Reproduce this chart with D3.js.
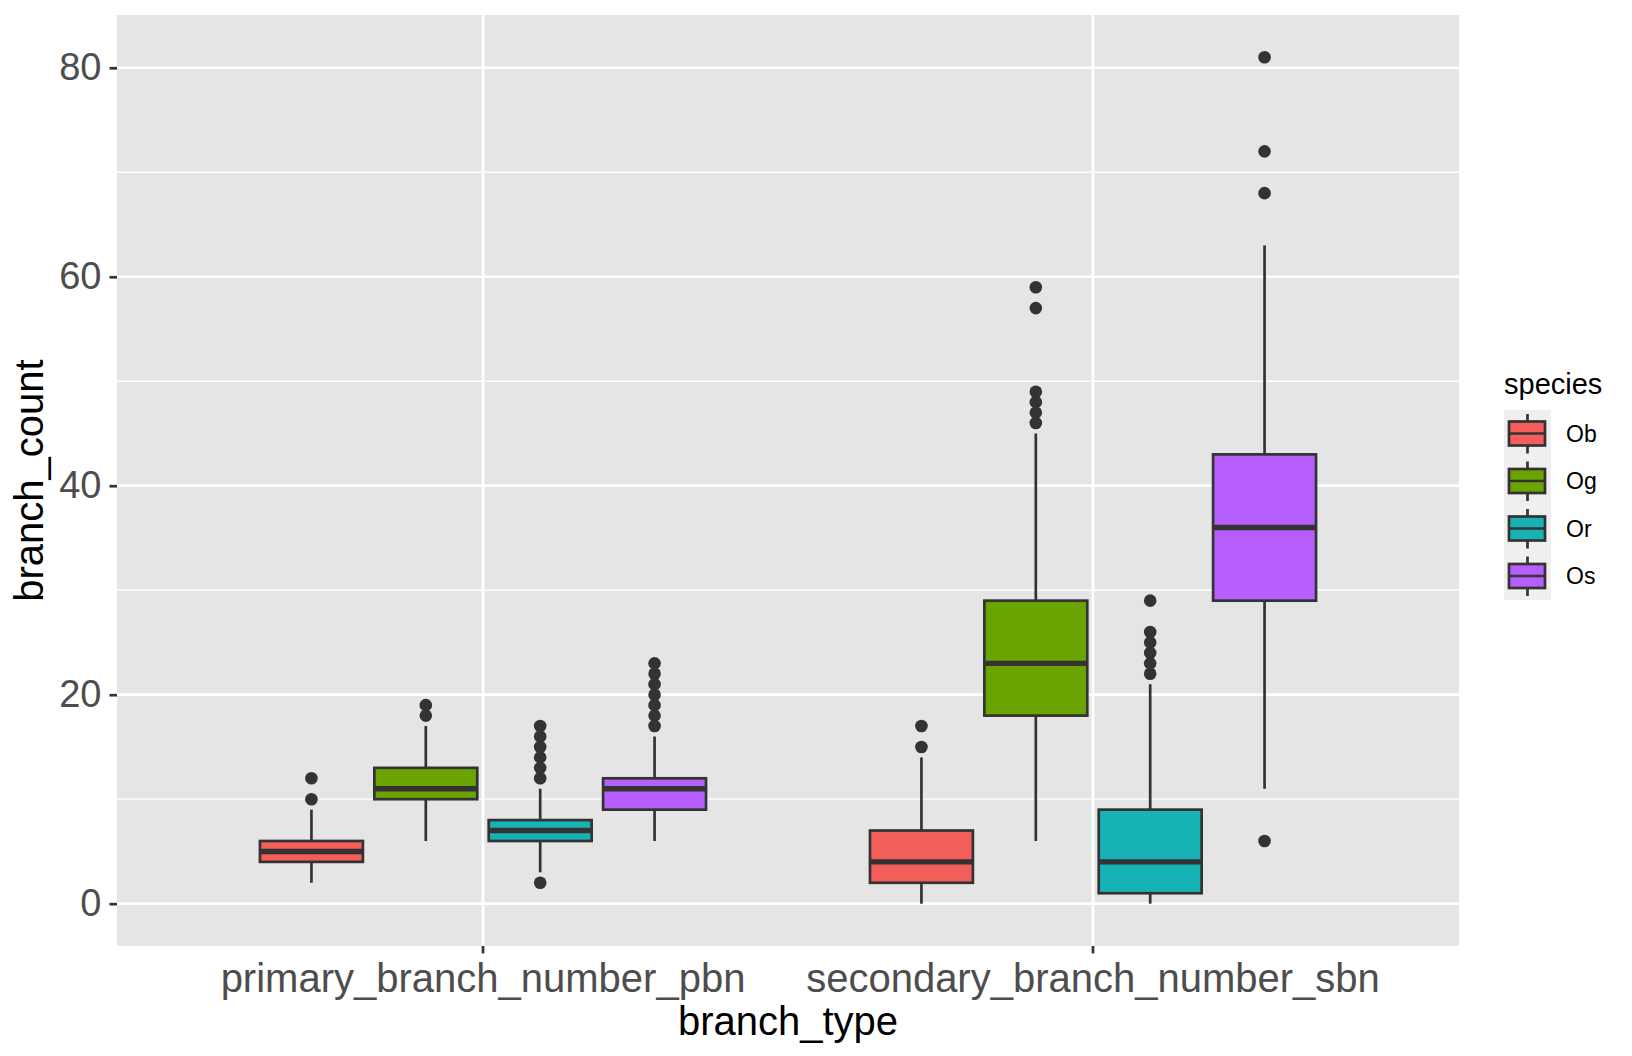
<!DOCTYPE html>
<html>
<head>
<meta charset="utf-8">
<script src="https://cdn.jsdelivr.net/npm/d3@7"></script>
<style>
  html, body { margin: 0; padding: 0; background: #fff; }
  svg text { font-family: "Liberation Sans", Arial, Helvetica, sans-serif; }
</style>
</head>
<body>
<div id="chart"></div>
<script>
// categories and groups
const branchTypes = ['primary_branch_number_pbn', 'secondary_branch_number_sbn'];
const species = ['Ob', 'Og', 'Or', 'Os'];
const speciesColors = ['#F35E5A', '#6BA300', '#17B2B6', '#B65EFF'];

// box statistics, one row per branch type, one entry per species
const lowerWhisker = [[2, 6, 3, 6], [0, 6, 0, 11]];
const q1 = [[4, 10, 6, 9], [2, 18, 1, 29]];
const medians = [[5, 11, 7, 11], [4, 23, 4, 36]];
const q3 = [[6, 13, 8, 12], [7, 29, 9, 43]];
const upperWhisker = [[9, 17, 11, 16], [14, 45, 21, 63]];
const outliers = [
    [[10, 12], [18, 19], [2, 12, 13, 14, 15, 16, 17], [17, 18, 19, 20, 21, 22, 23]],
    [[15, 17], [46, 47, 48, 49, 57, 59], [22, 23, 24, 25, 26, 29], [6, 68, 72, 81]]
];

const yTicks = [0, 20, 40, 60, 80];
const yMinor = [10, 30, 50, 70];

const width = 1632;
const height = 1056;
const panel = { left: 117, right: 1459, top: 15, bottom: 946 };
const ink = '#333333';

const svg = d3.select('#chart')
    .append('svg')
    .attr('width', width)
    .attr('height', height);

svg.append('rect')
    .attr('width', width)
    .attr('height', height)
    .attr('fill', '#fff');

// scales
const x = d3.scaleBand()
    .domain(branchTypes)
    .range([panel.left, panel.right])
    .paddingInner(0)
    .paddingOuter(0.1);

const dodge = d3.scaleBand()
    .domain(species)
    .range([-0.375 * x.bandwidth(), 0.375 * x.bandwidth()]);

const boxWidth = dodge.bandwidth() * 0.9;

const y = d3.scaleLinear()
    .domain([-4.05, 85.05])
    .range([panel.bottom, panel.top]);

const color = d3.scaleOrdinal().domain(species).range(speciesColors);

// panel background and grid
svg.append('rect')
    .attr('x', panel.left)
    .attr('y', panel.top)
    .attr('width', panel.right - panel.left)
    .attr('height', panel.bottom - panel.top)
    .attr('fill', '#E5E5E5');

const grid = svg.append('g');
grid.selectAll('.minor')
    .data(yMinor)
    .enter()
    .append('line')
    .attr('x1', panel.left)
    .attr('x2', panel.right)
    .attr('y1', d => y(d))
    .attr('y2', d => y(d))
    .attr('stroke', '#fff')
    .attr('stroke-width', 1.35);

grid.selectAll('.major')
    .data(yTicks)
    .enter()
    .append('line')
    .attr('x1', panel.left)
    .attr('x2', panel.right)
    .attr('y1', d => y(d))
    .attr('y2', d => y(d))
    .attr('stroke', '#fff')
    .attr('stroke-width', 2.7);

grid.selectAll('.vmajor')
    .data(branchTypes)
    .enter()
    .append('line')
    .attr('x1', d => x(d) + x.bandwidth() / 2)
    .attr('x2', d => x(d) + x.bandwidth() / 2)
    .attr('y1', panel.top)
    .attr('y2', panel.bottom)
    .attr('stroke', '#fff')
    .attr('stroke-width', 2.7);

// flatten box data
const boxes = [];
branchTypes.forEach(function(bt, i) {
    species.forEach(function(sp, j) {
        boxes.push({
            type: bt,
            species: sp,
            lo: lowerWhisker[i][j],
            q1: q1[i][j],
            med: medians[i][j],
            q3: q3[i][j],
            hi: upperWhisker[i][j],
            out: outliers[i][j]
        });
    });
});

const cx = d => x(d.type) + x.bandwidth() / 2 + dodge(d.species) + dodge.bandwidth() / 2;

const g = svg.append('g');
const box = g.selectAll('.box')
    .data(boxes)
    .enter()
    .append('g')
    .attr('class', 'box');

// whiskers
box.append('line')
    .attr('x1', cx).attr('x2', cx)
    .attr('y1', d => y(d.q3)).attr('y2', d => y(d.hi))
    .attr('stroke', ink).attr('stroke-width', 2.7);
box.append('line')
    .attr('x1', cx).attr('x2', cx)
    .attr('y1', d => y(d.q1)).attr('y2', d => y(d.lo))
    .attr('stroke', ink).attr('stroke-width', 2.7);

// boxes
box.append('rect')
    .attr('x', d => cx(d) - boxWidth / 2)
    .attr('width', boxWidth)
    .attr('y', d => y(d.q3))
    .attr('height', d => y(d.q1) - y(d.q3))
    .attr('fill', d => color(d.species))
    .attr('stroke', ink)
    .attr('stroke-width', 2.7);

// medians
box.append('line')
    .attr('x1', d => cx(d) - boxWidth / 2)
    .attr('x2', d => cx(d) + boxWidth / 2)
    .attr('y1', d => y(d.med)).attr('y2', d => y(d.med))
    .attr('stroke', ink).attr('stroke-width', 5.4);

// outliers
box.selectAll('circle')
    .data(d => d.out.map(v => ({ v: v, parent: d })))
    .enter()
    .append('circle')
    .attr('cx', d => cx(d.parent))
    .attr('cy', d => y(d.v))
    .attr('r', 6.3)
    .attr('fill', ink);

// axes
const yAxis = d3.axisLeft(y)
    .tickValues(yTicks)
    .tickSize(7.5)
    .tickPadding(8);

const yAxisG = svg.append('g')
    .attr('transform', `translate(${panel.left},0)`)
    .call(yAxis);

const xAxis = d3.axisBottom(x)
    .tickSize(7.5)
    .tickPadding(10);

const xAxisG = svg.append('g')
    .attr('transform', `translate(0,${panel.bottom})`)
    .call(xAxis);

[yAxisG, xAxisG].forEach(function(a) {
    a.select('.domain').remove();
    a.selectAll('.tick line').attr('stroke', ink).attr('stroke-width', 2.7);
    a.selectAll('.tick text').attr('fill', '#4D4D4D');
});
yAxisG.selectAll('.tick text').style('font-size', '38px');
xAxisG.selectAll('.tick text').style('font-size', '40px');

// axis titles
svg.append('text')
    .attr('x', (panel.left + panel.right) / 2)
    .attr('y', 1035)
    .attr('text-anchor', 'middle')
    .style('font-size', '40px')
    .attr('fill', '#000')
    .text('branch_type');

svg.append('text')
    .attr('transform', `translate(43,${(panel.top + panel.bottom) / 2}) rotate(-90)`)
    .attr('text-anchor', 'middle')
    .style('font-size', '40px')
    .attr('fill', '#000')
    .text('branch_count');

// legend
const legend = svg.append('g').attr('transform', 'translate(1504,0)');

legend.append('text')
    .attr('x', 0)
    .attr('y', 394)
    .style('font-size', '29px')
    .attr('fill', '#000')
    .text('species');

const keyH = 47.5;
const keyTop = 410;
const key = legend.selectAll('.key')
    .data(species)
    .enter()
    .append('g')
    .attr('class', 'key')
    .attr('transform', (d, i) => `translate(0,${keyTop + i * keyH})`);

key.append('rect')
    .attr('width', 47)
    .attr('height', keyH)
    .attr('fill', '#EFEFEF');

key.append('line')
    .attr('x1', 23.5).attr('x2', 23.5)
    .attr('y1', 4).attr('y2', keyH - 4)
    .attr('stroke', ink).attr('stroke-width', 2.7);

key.append('rect')
    .attr('x', 5)
    .attr('y', 11.5)
    .attr('width', 36)
    .attr('height', 24)
    .attr('fill', d => color(d))
    .attr('stroke', ink)
    .attr('stroke-width', 2.7);

key.append('line')
    .attr('x1', 5).attr('x2', 41)
    .attr('y1', 23.5).attr('y2', 23.5)
    .attr('stroke', ink).attr('stroke-width', 2.7);

key.append('text')
    .attr('x', 62)
    .attr('y', 23.5)
    .attr('dy', '0.36em')
    .style('font-size', '23px')
    .attr('fill', '#000')
    .text(d => d);
</script>
</body>
</html>
